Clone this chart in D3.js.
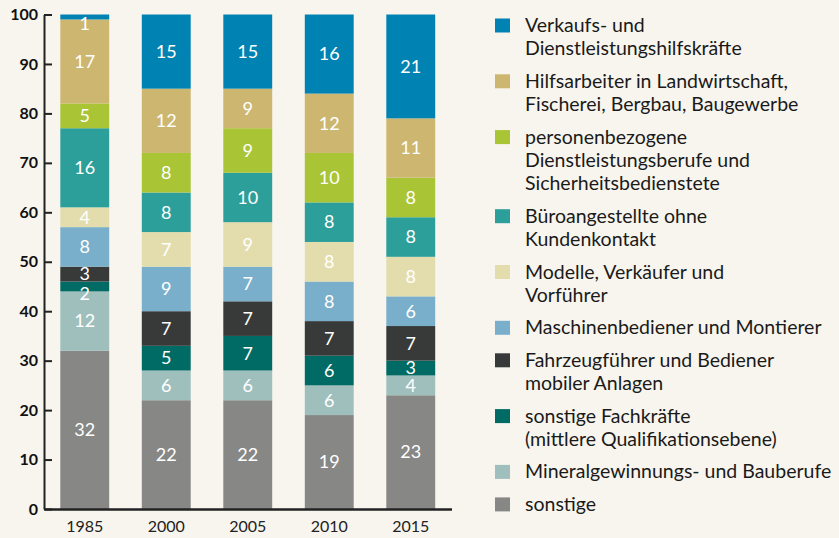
<!DOCTYPE html>
<html>
<head>
<meta charset="utf-8">
<script src="https://cdn.jsdelivr.net/npm/d3@7"></script>
<style>
html,body{margin:0;padding:0;background:#f8f5ee;}
svg{display:block;font-family:Lato,"Open Sans",sans-serif;}
</style>
</head>
<body>
<div id="chart"></div>
<script>
// years on the x axis
const years=["1985","2000","2005","2010","2015"];

// groups, bottom of the stack first
const keys=["sonst","mineral","fach","fahrzeug","maschinen","modelle","buero","person","hilfs","verkauf"];
const legendNames=[
  ["sonstige"],
  ["Mineralgewinnungs- und Bauberufe"],
  ["sonstige Fachkräfte","(mittlere Qualifikationsebene)"],
  ["Fahrzeugführer und Bediener","mobiler Anlagen"],
  ["Maschinenbediener und Montierer"],
  ["Modelle, Verkäufer und","Vorführer"],
  ["Büroangestellte ohne","Kundenkontakt"],
  ["personenbezogene","Dienstleistungsberufe und","Sicherheitsbedienstete"],
  ["Hilfsarbeiter in Landwirtschaft,","Fischerei, Bergbau, Baugewerbe"],
  ["Verkaufs- und","Dienstleistungshilfskräfte"]
];
const colors=["#878786","#9fbfbd","#006b64","#383a3a","#79afca","#e3ddad","#2c9f9b","#a9c435","#cdb770","#0083b2"];

// segment heights in percent
const sonst    =[32,22,22,19,23];
const mineral  =[12, 6, 6, 6, 4];
const fach     =[ 2, 5, 7, 6, 3];
const fahrzeug =[ 3, 7, 7, 7, 7];
const maschinen=[ 8, 9, 7, 8, 6];
const modelle  =[ 4, 7, 9, 8, 8];
const buero    =[16, 8,10, 8, 8];
const person   =[ 5, 8, 9,10, 8];
const hilfs    =[17,13, 8,12,12];
const verkauf  =[ 1,15,15,16,21];

// numbers printed in the bars
const labelsHilfs=[17,12,9,12,11];

const w=839, h=538;
const svg=d3.select("#chart").append("svg").attr("width",w).attr("height",h);
svg.append("rect").attr("width",w).attr("height",h).attr("fill","#f8f5ee");

const series={sonst,mineral,fach,fahrzeug,maschinen,modelle,buero,person,hilfs,verkauf};
const table=years.map((y,i)=>{
  const row={year:y};
  keys.forEach(k=>row[k]=series[k][i]);
  return row;
});
const printed={};
keys.forEach(k=>printed[k]=series[k]);
printed.hilfs=labelsHilfs;

const stacked=d3.stack().keys(keys)(table);

const xScale=d3.scaleBand().domain(years).range([44,451.5]).paddingInner(0.4).paddingOuter(0.2);
const yScale=d3.scaleLinear().domain([0,100]).range([509,14.5]);

const layers=svg.selectAll("g.layer")
  .data(stacked)
  .enter()
  .append("g")
  .attr("class","layer")
  .attr("fill",(d,i)=>colors[i]);

layers.selectAll("rect")
  .data(d=>d)
  .enter()
  .append("rect")
  .attr("x",d=>xScale(d.data.year))
  .attr("width",xScale.bandwidth())
  .attr("y",d=>yScale(d[1]))
  .attr("height",d=>yScale(d[0])-yScale(d[1]));

layers.each(function(layer){
  const k=layer.key;
  d3.select(this).selectAll("text")
    .data(layer)
    .enter()
    .append("text")
    .attr("x",d=>xScale(d.data.year)+xScale.bandwidth()/2)
    .attr("y",d=>{
      const v=d[1]-d[0];
      return yScale((d[0]+d[1])/2)+(v<2.5?7:0);
    })
    .attr("dy","0.35em")
    .attr("text-anchor","middle")
    .attr("fill","#fff")
    .style("font-size","18px")
    .text((d,i)=>printed[k][i]);
});

// axes
const yAxis=d3.axisLeft(yScale).tickValues(d3.range(0,101,10)).tickSizeInner(-8).tickSizeOuter(0).tickPadding(6);
const gy=svg.append("g").attr("transform","translate(44,0)").call(yAxis);
gy.selectAll("path,line").attr("stroke","#222").attr("stroke-width",2);
gy.selectAll("text").attr("fill","#111").style("font-size","16px").style("font-weight","bold").style("font-family","Lato");

const xAxis=d3.axisBottom(xScale).tickSize(0).tickPadding(12);
const gx=svg.append("g").attr("transform","translate(0,509)").call(xAxis);
gx.select("path").attr("stroke","#222").attr("stroke-width",2.5);
gx.selectAll("text").attr("fill","#222").style("font-size","16px").style("font-family","Lato");

// legend, top item first
const legend=svg.append("g");
const lineH=23.3, gap=32.5;
let yPos=32;
for(let i=keys.length-1;i>=0;i--){
  const lines=legendNames[i];
  legend.append("rect")
    .attr("x",495).attr("y",yPos-13.5)
    .attr("width",15).attr("height",14)
    .attr("fill",colors[i]);
  const t=legend.append("text")
    .attr("x",525).attr("y",yPos)
    .attr("fill","#1a1a1a")
    .style("font-size","19.5px");
  lines.forEach((l,j)=>{
    t.append("tspan").attr("x",525).attr("y",yPos+j*lineH).text(l);
  });
  yPos+=(lines.length-1)*lineH+gap;
}
</script>
</body>
</html>
